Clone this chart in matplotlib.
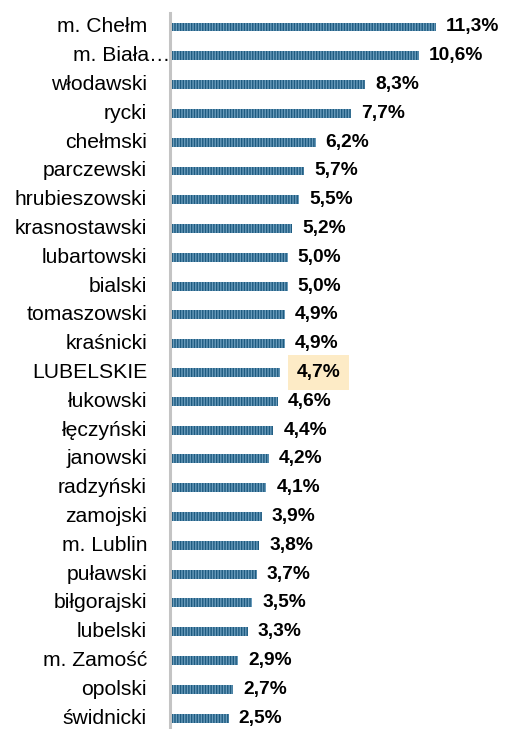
import matplotlib
matplotlib.use("Agg")
import matplotlib.pyplot as plt

plt.rcParams['font.family'] = ['Liberation Sans', 'DejaVu Sans']

categories = ["m. Chełm", "m. Biała…", "włodawski", "rycki", "chełmski", "parczewski",
              "hrubieszowski", "krasnostawski", "lubartowski", "bialski", "tomaszowski",
              "kraśnicki", "LUBELSKIE", "łukowski", "łęczyński", "janowski", "radzyński",
              "zamojski", "m. Lublin", "puławski", "biłgorajski", "lubelski", "m. Zamość",
              "opolski", "świdnicki"]
values = [11.3, 10.6, 8.3, 7.7, 6.2, 5.7, 5.5, 5.2, 5.0, 5.0, 4.9, 4.9, 4.7, 4.6, 4.4,
          4.2, 4.1, 3.9, 3.8, 3.7, 3.5, 3.3, 2.9, 2.7, 2.5]
labels = ["11,3%", "10,6%", "8,3%", "7,7%", "6,2%", "5,7%", "5,5%", "5,2%", "5,0%", "5,0%",
          "4,9%", "4,9%", "4,7%", "4,6%", "4,4%", "4,2%", "4,1%", "3,9%", "3,8%", "3,7%",
          "3,5%", "3,3%", "2,9%", "2,7%", "2,5%"]
highlight = "LUBELSKIE"

W, H = 514, 729
fig = plt.figure(figsize=(W / 100, H / 100), dpi=100)
ax = fig.add_axes([170 / W, 0, 1 - 170 / W, 1 - 13 / H])

ypos = list(range(len(categories)))
bars = ax.barh(ypos, values, height=0.31, color="#1d5a7f", edgecolor="#6a9cbc",
               linewidth=0, hatch="||||||")
ax.set_ylim(24.38, -0.486)
ax.set_xlim(0, 344 / 23.5)

for s in ["top", "right", "bottom"]:
    ax.spines[s].set_visible(False)
ax.spines["left"].set_color("#c4c4c4")
ax.spines["left"].set_linewidth(2.2)
ax.set_xticks([])
ax.set_yticks([])

for i, (cat, v, lab) in enumerate(zip(categories, values, labels)):
    if cat.endswith("…"):
        ax.annotate(cat, xy=(0, i), xytext=(0, 0), textcoords="offset pixels",
                    ha="right", va="center", fontsize=15.2, color="#000000")
    else:
        ax.annotate(cat, xy=(0, i), xytext=(-23, 0), textcoords="offset pixels",
                    ha="right", va="center", fontsize=15.2, color="#000000")
    kw = {}
    if cat == highlight:
        kw["bbox"] = dict(boxstyle="square,pad=0.45", facecolor="#fdebc6", edgecolor="none")
        off = 16
    else:
        off = 10
    ax.annotate(lab, xy=(v, i), xytext=(off, 0), textcoords="offset pixels",
                ha="left", va="center", fontsize=13.8, fontweight="bold", color="#000000", **kw)

fig.savefig("out.png", dpi=100)
